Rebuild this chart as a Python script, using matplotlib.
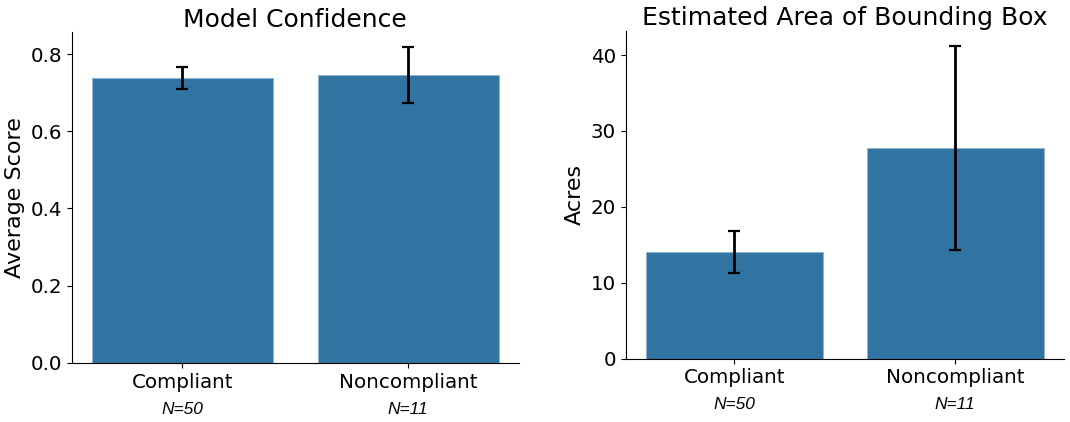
import matplotlib
matplotlib.use("Agg")
import matplotlib.pyplot as plt
import matplotlib.transforms as mtransforms

categories = ["Compliant", "Noncompliant"]
n_labels = ["N=50", "N=11"]

conf_mean = [0.737, 0.747]
conf_low = [0.709, 0.674]
conf_high = [0.767, 0.819]

area_mean = [14.1, 27.8]
area_low = [11.25, 14.3]
area_high = [16.8, 41.2]

bar_color = "#3274a1"

fig = plt.figure(figsize=(10.70, 4.22), dpi=100)
ax1 = fig.add_axes([0.067, 0.140, 0.418, 0.784])
ax2 = fig.add_axes([0.585, 0.150, 0.409, 0.777])

def draw(ax, means, lows, highs, title, ylabel, ylim, yticks, fmt):
    x = list(range(len(categories)))
    err = [[m - l for m, l in zip(means, lows)], [h - m for m, h in zip(means, highs)]]
    ax.bar(x, means, width=0.8, color=bar_color, edgecolor="#8fb3cf", linewidth=0.6, zorder=2)
    ax.errorbar(x, means, yerr=err, fmt="none", ecolor="black", elinewidth=2,
                capsize=4.5, capthick=1.6, zorder=3)
    ax.set_xlim(-0.49, 1.49)
    ax.set_ylim(*ylim)
    ax.set_xticks(x)
    ax.set_xticklabels(categories, fontsize=14.3)
    ax.set_yticks(yticks)
    ax.set_yticklabels([fmt.format(t) for t in yticks], fontsize=14.3)
    ax.set_title(title, fontsize=18, pad=4)
    ax.set_ylabel(ylabel, fontsize=16)
    for s in ["top", "right"]:
        ax.spines[s].set_visible(False)
    trans = mtransforms.blended_transform_factory(ax.transData, ax.transAxes)
    for xi, lab in zip(x, n_labels):
        ax.text(xi, -0.14, lab, transform=trans, ha="center", va="center",
                fontsize=12.5, style="italic", family="Liberation Sans")

draw(ax1, conf_mean, conf_low, conf_high, "Model Confidence", "Average Score",
     (0, 0.857), [0.0, 0.2, 0.4, 0.6, 0.8], "{:.1f}")
draw(ax2, area_mean, area_low, area_high, "Estimated Area of Bounding Box", "Acres",
     (0, 43.2), [0, 10, 20, 30, 40], "{:.0f}")

fig.savefig("out.png", dpi=100)
